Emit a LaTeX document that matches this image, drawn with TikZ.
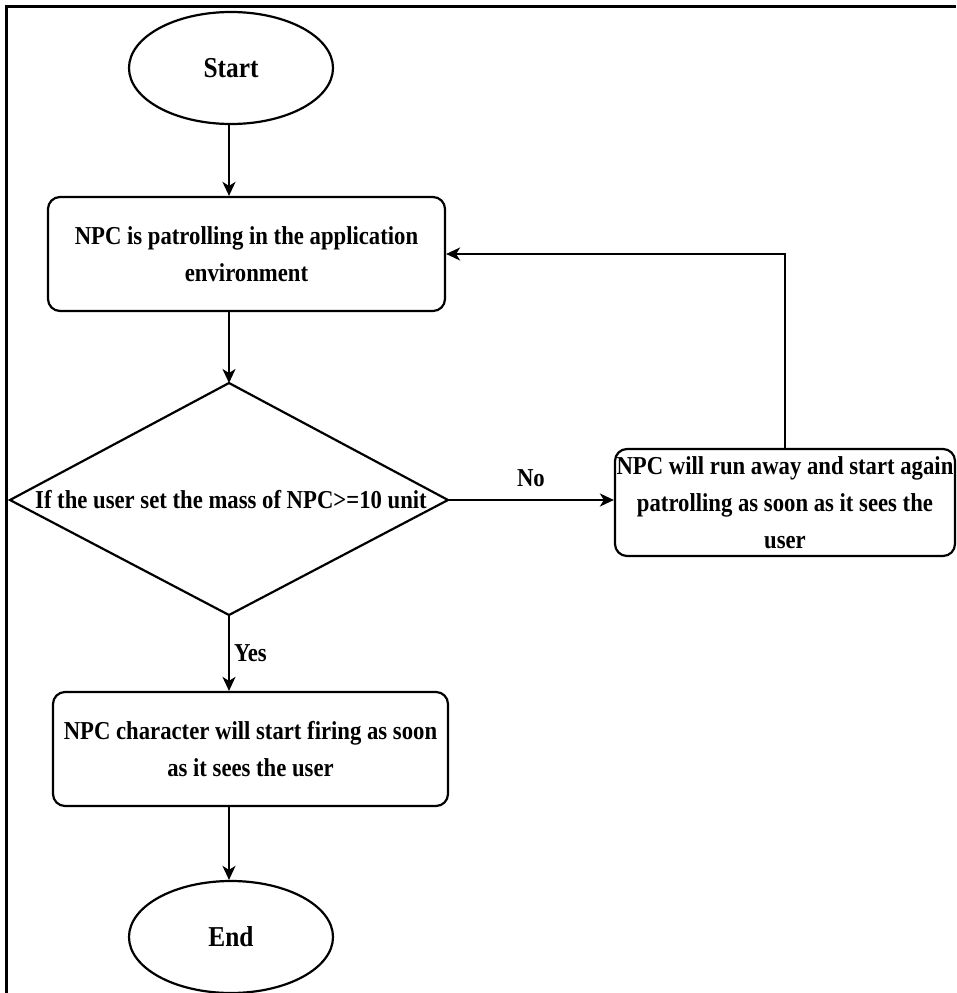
\documentclass[tikz,border=0pt]{standalone}
\usepackage{fontspec}
\setmainfont{Liberation Serif}[FakeStretch=0.88]
\usetikzlibrary{shapes.geometric,arrows.meta,calc}
\begin{document}
\begin{tikzpicture}[x=1pt,y=-1pt,
  every node/.style={font=\bfseries\fontsize{25.8}{37}\selectfont},
  term/.style={draw,line width=2.2pt,ellipse,minimum width=204pt,minimum height=112pt,inner sep=0pt,font=\bfseries\fontsize{28.8}{32}\selectfont},
  proc/.style={draw,line width=2.2pt,rounded corners=12pt,inner sep=0pt,align=center},
  arr/.style={line width=2pt,-{Stealth[length=14pt,width=13pt,inset=4pt]}},
  lbl/.style={inner sep=0pt}
]
\useasboundingbox (0,0) rectangle (956,993);
% frame
\draw[line width=2.5pt] (6.5,993) -- (6.5,6.5) -- (956,6.5);

\node[term] (start) at (231,68) {Start};
\node[proc,minimum width=397pt,minimum height=114pt] (box1) at (246.5,254)
  {NPC is patrolling in the application\\environment};

% decision diamond
\coordinate (dt) at (229,383);
\coordinate (dr) at (448,500);
\coordinate (db) at (229,615);
\coordinate (dl) at (10,500);
\draw[line width=2.2pt,line join=miter] (dt) -- (dr) -- (db) -- (dl) -- cycle;
\node[lbl] (dtext) at (231,500) {If the user set the mass of NPC>=10 unit};

\node[proc,minimum width=340pt,minimum height=107pt] (rbox) at (785,502.5)
  {NPC will run away and start again\\patrolling as soon as it sees the\\user};

\node[proc,minimum width=395pt,minimum height=114pt] (box3) at (250.5,749)
  {NPC character will start firing as soon\\as it sees the user};

\node[term] (end) at (231,937) {End};

% connectors
\draw[arr] (start.south -| dt) -- (dt |- box1.north);
\draw[arr] (dt |- box1.south) -- (dt);
\draw[arr] (dr) -- (dr -| rbox.west) node[lbl,midway,above=12pt] (no) {No};
\draw[arr] (rbox.north) |- (box1.east);
\draw[arr] (db) -- (db |- box3.north) node[lbl,pos=0.5,right=4pt] (yes) {Yes};
\draw[arr] (db |- box3.south) -- (db |- end.north);
\end{tikzpicture}
\end{document}
